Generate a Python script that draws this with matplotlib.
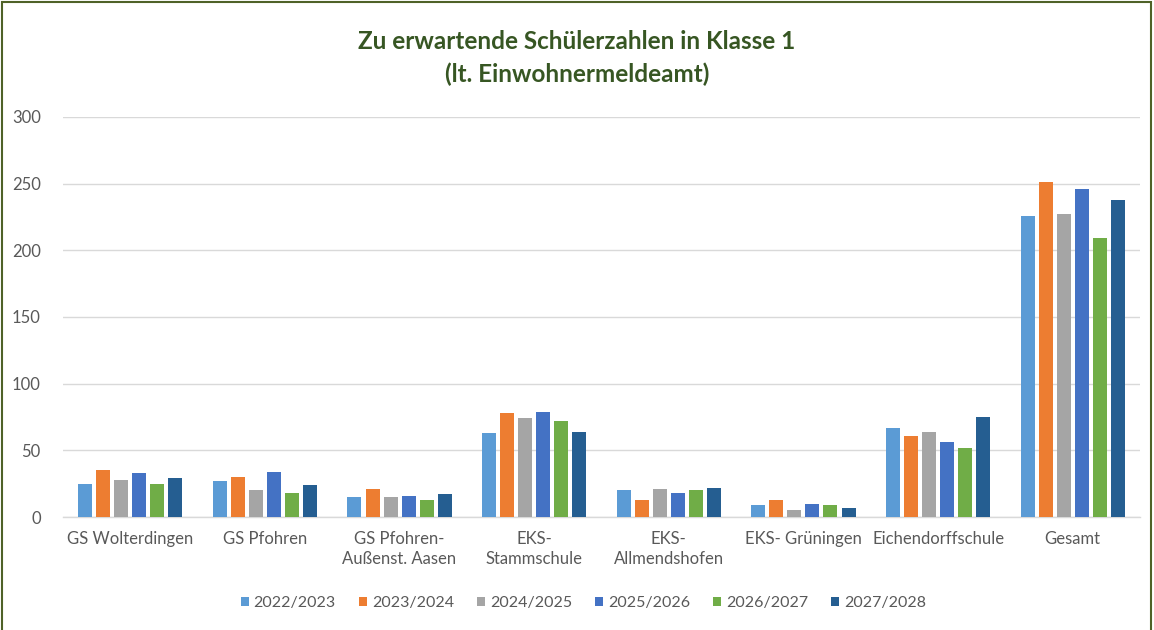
import numpy as np
import matplotlib.pyplot as plt
from matplotlib.patches import Rectangle

schulen = ['GS Wolterdingen', 'GS Pfohren', 'GS Pfohren-\nAußenst. Aasen', 'EKS-\nStammschule',
           'EKS-\nAllmendshofen', 'EKS- Grüningen', 'Eichendorffschule', 'Gesamt']
jahre = ['2022/2023', '2023/2024', '2024/2025', '2025/2026', '2026/2027', '2027/2028']

j2022 = [25, 27, 15, 63, 20, 9, 67, 226]
j2023 = [35, 30, 21, 78, 13, 13, 61, 251]
j2024 = [28, 20, 15, 74, 21, 5, 64, 227]
j2025 = [33, 34, 16, 79, 18, 10, 56, 246]
j2026 = [25, 18, 13, 72, 20, 9, 52, 209]
j2027 = [29, 24, 17, 64, 22, 7, 75, 238]

farben = ['#5B9BD5', '#ED7D31', '#A5A5A5', '#4472C4', '#70AD47', '#255E91']

plt.rcParams['font.family'] = ['Lato', 'DejaVu Sans']

fig = plt.figure(figsize=(11.54, 6.30), dpi=100)
ax = fig.add_axes([63/1154, 1 - 517/630, (1140 - 63)/1154, 400/630])

x = np.arange(len(schulen))
step = 0.134
breite = 0.104
serien = [j2022, j2023, j2024, j2025, j2026, j2027]
for i, (werte, name, farbe) in enumerate(zip(serien, jahre, farben)):
    ax.bar(x + (i - 2.5) * step, werte, width=breite, color=farbe, label=name, zorder=3)

ax.set_xlim(-0.5, len(schulen) - 0.5)
ax.set_ylim(0, 300)
ax.set_yticks(range(0, 301, 50))
ax.yaxis.grid(True, color='#D9D9D9', linewidth=1, zorder=0)
for s in ['top', 'right', 'left']:
    ax.spines[s].set_visible(False)
ax.spines['bottom'].set_color('#D9D9D9')
ax.spines['bottom'].set_linewidth(1)
ax.tick_params(axis='both', length=0, colors='#595959', labelsize=12)
ax.tick_params(axis='y', pad=16)
ax.tick_params(axis='x', pad=10)
ax.set_xticks(x)
ax.set_xticklabels(schulen, linespacing=1.3)

fig.text(0.5, 1 - 58/630, 'Zu erwartende Schülerzahlen in Klasse 1\n(lt. Einwohnermeldeamt)',
         ha='center', va='center', fontsize=17.5, fontweight='bold', color='#375623', linespacing=1.45)

leg = fig.legend(loc='center', bbox_to_anchor=(0.5056, 1 - 603/630), ncol=6, frameon=False,
                 fontsize=11.5, handlelength=0.5, handleheight=0.5, handletextpad=0.3, columnspacing=1.45)
for t in leg.get_texts():
    t.set_color('#595959')

fig.patches.append(Rectangle((0.002, -0.01), 0.995, 1.007, transform=fig.transFigure,
                             fill=False, edgecolor='#4F6228', linewidth=1.5))

fig.savefig('out.png', dpi=100)
